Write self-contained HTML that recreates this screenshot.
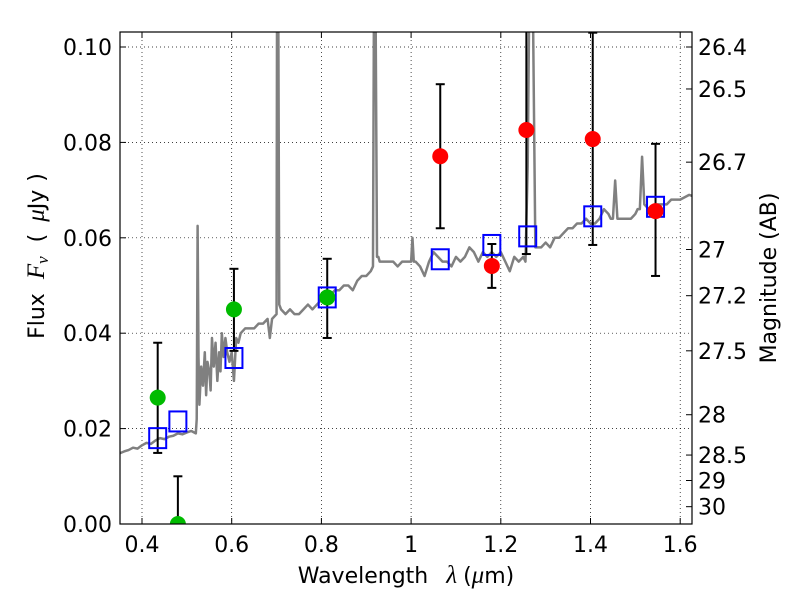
<!DOCTYPE html>
<html><head><meta charset="utf-8"><style>
html,body{margin:0;padding:0;background:#fff}
svg{display:block;font-family:"DejaVu Sans","Liberation Sans",sans-serif}
</style></head><body>
<svg id="chart" width="800" height="600"></svg>
<script>
const specW=[0.30,0.35,0.36,0.37,0.38,0.39,0.4,0.41,0.42,0.43,0.44,0.45,0.46,0.47,0.48,0.49,0.5,0.51,0.52,0.522,0.524,0.526,0.528,0.532,0.536,0.54,0.543,0.546,0.55,0.553,0.556,0.56,0.564,0.568,0.572,0.575,0.578,0.582,0.586,0.59,0.595,0.6,0.605,0.61,0.615,0.62,0.63,0.64,0.65,0.66,0.67,0.68,0.685,0.69,0.7,0.701,0.704,0.706,0.71,0.72,0.73,0.74,0.75,0.76,0.77,0.78,0.79,0.8,0.81,0.82,0.83,0.84,0.85,0.86,0.87,0.88,0.89,0.9,0.91,0.915,0.917,0.921,0.924,0.927,0.93,0.94,0.95,0.96,0.97,0.98,0.99,1.0,1.003,1.006,1.01,1.02,1.03,1.04,1.05,1.06,1.07,1.08,1.09,1.1,1.11,1.12,1.13,1.14,1.15,1.16,1.17,1.18,1.19,1.2,1.21,1.22,1.23,1.24,1.25,1.255,1.26,1.263,1.268,1.272,1.277,1.28,1.29,1.3,1.31,1.32,1.33,1.34,1.35,1.36,1.37,1.38,1.39,1.4,1.41,1.42,1.43,1.44,1.445,1.45,1.455,1.46,1.47,1.48,1.49,1.5,1.505,1.51,1.515,1.52,1.53,1.54,1.55,1.56,1.57,1.58,1.59,1.6,1.61,1.62,1.65];
const specF=[0.0125,0.0148,0.0152,0.0155,0.016,0.0158,0.0165,0.017,0.0168,0.0175,0.018,0.0178,0.0183,0.0185,0.019,0.0188,0.0192,0.0195,0.019,0.022,0.0625,0.035,0.025,0.033,0.029,0.036,0.027,0.034,0.032,0.028,0.039,0.033,0.038,0.03,0.036,0.032,0.04,0.035,0.039,0.036,0.034,0.036,0.03,0.039,0.038,0.04,0.041,0.041,0.041,0.042,0.042,0.043,0.039,0.043,0.044,0.105,0.105,0.046,0.045,0.044,0.045,0.044,0.044,0.045,0.046,0.045,0.046,0.047,0.047,0.048,0.049,0.049,0.05,0.05,0.049,0.051,0.052,0.052,0.053,0.054,0.105,0.105,0.056,0.056,0.055,0.055,0.055,0.055,0.054,0.055,0.055,0.055,0.06,0.055,0.055,0.054,0.052,0.055,0.057,0.056,0.055,0.055,0.054,0.056,0.055,0.056,0.058,0.057,0.055,0.057,0.056,0.057,0.056,0.057,0.055,0.053,0.056,0.055,0.056,0.055,0.075,0.105,0.105,0.105,0.058,0.058,0.058,0.059,0.058,0.06,0.06,0.061,0.062,0.062,0.063,0.063,0.064,0.063,0.063,0.064,0.066,0.065,0.064,0.064,0.072,0.064,0.064,0.064,0.064,0.065,0.066,0.066,0.077,0.067,0.066,0.066,0.067,0.067,0.067,0.068,0.068,0.068,0.0685,0.069,0.068,0.068];
const greenW=[0.435,0.48,0.605,0.813];
const greenF=[0.0265,0.0,0.045,0.0475];
const greenHi=[0.038,0.010,0.0535,0.0556];
const greenLo=[0.0149,0.0,0.0363,0.039];
const redW=[1.065,1.18,1.257,1.405,1.545];
const redF=[0.0771,0.0541,0.0826,0.0807,0.0656];
const redHi=[0.0922,0.0587,0.12,0.103,0.0797];
const redLo=[0.062,0.0495,0.0566,0.0585,0.052];
const boxW=[0.435,0.48,0.605,0.813,1.065,1.18,1.26,1.405,1.545];
const boxF=[0.018,0.0215,0.0348,0.0475,0.0555,0.0585,0.0603,0.0645,0.0665];
const xTicks=[0.4,0.6,0.8,1.0,1.2,1.4,1.6];
const xTickLabels=["0.4","0.6","0.8","1","1.2","1.4","1.6"];
const yTicks=[0,0.02,0.04,0.06,0.08,0.10];
const yTickLabels=["0.00","0.02","0.04","0.06","0.08","0.10"];
const magTicks=[26.4,26.5,26.7,27,27.2,27.5,28,28.5,29,30];
const magLabels=["26.4","26.5","26.7","27","27.2","27.5","28","28.5","29","30"];

const L=120,R=692,T=32,B=524;
const X=w=>142+(w-0.4)*448.5;
const Y=f=>524-f*4770;
const NS="http://www.w3.org/2000/svg";
const svg=document.getElementById('chart');
function mk(tag,attrs,parent){const e=document.createElementNS(NS,tag);for(const k in attrs)e.setAttribute(k,attrs[k]);(parent||svg).appendChild(e);return e;}
const defs=mk('defs',{});const cp=mk('clipPath',{id:'clip'},defs);mk('rect',{x:L,y:T,width:R-L,height:B-T},cp);

const grid=mk('g',{});


xTicks.forEach(t=>{mk('line',{x1:X(t),x2:X(t),y1:T,y2:B,stroke:'#000','stroke-width':0.7,'stroke-dasharray':'1,3'},grid);});
yTicks.forEach(t=>{mk('line',{x1:L,x2:R,y1:Y(t),y2:Y(t),stroke:'#000','stroke-width':0.7,'stroke-dasharray':'1,3'},grid);});

const plot=mk('g',{'clip-path':'url(#clip)'});
const sp=mk('polyline',{points:specW.map((w,i)=>X(w)+','+Y(specF[i])).join(' '),fill:'none',stroke:'#808080','stroke-width':2.5,'stroke-linejoin':'round'},plot);


function ebar(w,lo,hi){const g=mk('g',{stroke:'#000','stroke-width':2},plot);
 
 
 mk('line',{x1:X(w),x2:X(w),y1:Y(lo),y2:Y(hi)},g);
 mk('line',{x1:X(w)-4.5,x2:X(w)+4.5,y1:Y(lo),y2:Y(lo)},g);
 mk('line',{x1:X(w)-4.5,x2:X(w)+4.5,y1:Y(hi),y2:Y(hi)},g);}
greenW.forEach((w,i)=>ebar(w,greenLo[i],greenHi[i]));
redW.forEach((w,i)=>ebar(w,redLo[i],redHi[i]));
boxW.forEach((w,i)=>{const r=mk('rect',{x:X(w)-8.5,y:Y(boxF[i])-10,width:17,height:20,fill:'none',stroke:'#0000ff','stroke-width':2},plot);
 
 });
greenW.forEach((w,i)=>{const c=mk('circle',{cx:X(w),cy:Y(greenF[i]),r:8,fill:'#00bb00'},plot);
 
 });
redW.forEach((w,i)=>{const c=mk('circle',{cx:X(w),cy:Y(redF[i]),r:8,fill:'#ff0000'},plot);
 
 });

const fr=mk('rect',{x:L,y:T,width:R-L,height:B-T,fill:'none',stroke:'#000','stroke-width':1.2});


xTicks.forEach((t,i)=>{mk('line',{x1:X(t),x2:X(t),y1:B,y2:B-6,stroke:'#000'});mk('line',{x1:X(t),x2:X(t),y1:T,y2:T+6,stroke:'#000'});
 const tx=mk('text',{x:X(t),y:B+28,'text-anchor':'middle','font-size':22});tx.textContent=xTickLabels[i];
 
 });
yTicks.forEach((t,i)=>{mk('line',{x1:L,x2:L+6,y1:Y(t),y2:Y(t),stroke:'#000'});
 const tx=mk('text',{x:L-8,y:Y(t)+8,'text-anchor':'end','font-size':22});tx.textContent=yTickLabels[i];
 
 });
magTicks.forEach((m,i)=>{const f=Math.pow(10,(23.9-m)/2.5);const y=Y(f);
 mk('line',{x1:R,x2:R-6,y1:y,y2:y,stroke:'#000'});
 const tx=mk('text',{x:R+6,y:y+8,'font-size':22});tx.textContent=magLabels[i];
 
 });

const xl=mk('text',{x:406,y:583,'text-anchor':'middle','font-size':22});
xl.innerHTML='Wavelength<tspan dx="18" font-style="italic" font-family="Liberation Serif,serif" font-size="25">λ</tspan><tspan dx="6">(</tspan><tspan font-style="italic" font-family="Liberation Serif,serif" font-size="25">μ</tspan>m)';


const yl=mk('text',{x:0,y:0,'text-anchor':'middle','font-size':22,transform:'translate(44,256) rotate(-90)'});
yl.innerHTML='Flux<tspan dx="14" font-style="italic" font-family="Liberation Serif,serif" font-size="25">F</tspan><tspan font-style="italic" font-size="17" dy="4" font-family="Liberation Serif,serif">ν</tspan><tspan dy="-4" dx="14">(</tspan><tspan dx="12" font-style="italic" font-family="Liberation Serif,serif" font-size="25">μ</tspan>Jy<tspan dx="8">)</tspan>';


const rl=mk('text',{x:0,y:0,'text-anchor':'middle','font-size':22,transform:'translate(776,278) rotate(-90)'});
rl.textContent='Magnitude (AB)';


</script>
</body></html>
